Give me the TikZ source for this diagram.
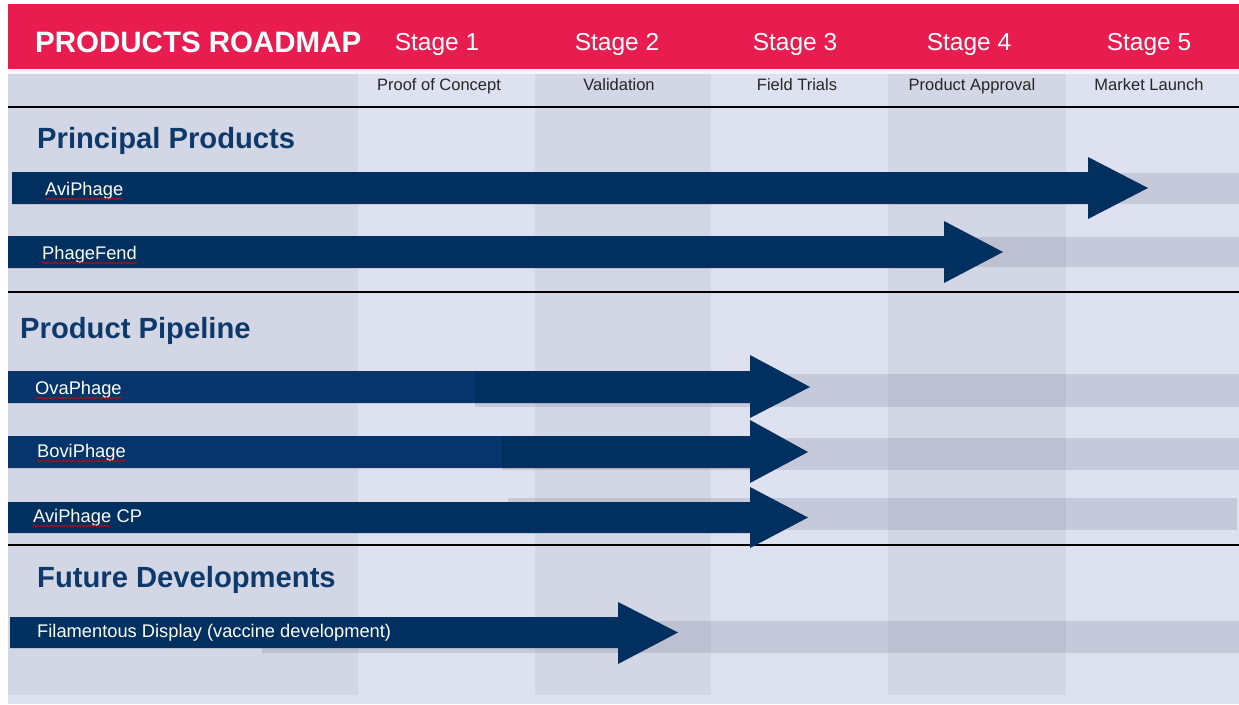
\documentclass[tikz,border=0pt]{standalone}
\usepackage{fontspec}
\setmainfont{Liberation Sans}
\usetikzlibrary{decorations.pathmorphing}

\definecolor{hdrred}{HTML}{E91C50}
\definecolor{bglight}{HTML}{DEE1EF}
\definecolor{bgdark}{HTML}{D2D6E5}
\definecolor{navy}{HTML}{00305F}
\definecolor{navylt}{HTML}{05356B}
\definecolor{headnavy}{HTML}{0D3A6B}
\definecolor{trackgray}{HTML}{5A5F78}

% roadmap arrow: left x, body top, body bottom, head base x, head top, head bottom, tip x
\newcommand\roadarrow[7]{%
  \fill[navy] (#1,#2) -- (#4,#2) -- (#4,#5) -- (#7,{(#2+#3)/2}) -- (#4,#6) -- (#4,#3) -- (#1,#3) -- cycle;}

\tikzset{
  titletxt/.style={text=white, font=\fontsize{29.5}{31}\selectfont\bfseries, inner sep=0pt, anchor=base west},
  stagetxt/.style={text=white, font=\fontsize{24.5}{26}\selectfont, inner sep=0pt, anchor=base},
  subtxt/.style={text=black!85, font=\fontsize{16.5}{18}\selectfont, inner sep=0pt, anchor=base},
  sectiontxt/.style={text=headnavy, font=\fontsize{29.2}{31}\selectfont\bfseries, inner sep=0pt, anchor=base west},
  itemtxt/.style={text=white, font=\fontsize{18.3}{20}\selectfont, inner sep=0pt, anchor=base west},
  track/.style={fill=trackgray, opacity=0.18},
  divider/.style={line width=2.4pt, black},
  spellmark/.style={draw=red!85!black, line width=0.7pt, decorate,
    decoration={snake, amplitude=0.9pt, segment length=3.2pt}},
}

\begin{document}
\begin{tikzpicture}[x=1pt,y=-1pt]
\useasboundingbox (0,0) rectangle (1239,704);
\fill[white] (0,0) rectangle (1239,704);

% background and alternating stage columns
\fill[bglight] (8,74) rectangle (1239,704);
\foreach \a/\b in {8/358,535/711,888/1066}
  \fill[bgdark] (\a,74) rectangle (\b,695);
\fill[white!94!gray] (8,69) rectangle (1239,74);

% header band
\fill[hdrred] (8,4) rectangle (1239,69);
\node[titletxt] (title) at (35,52.5) {PRODUCTS ROADMAP};
\node[stagetxt] (s1) at (437,50.5) {Stage 1};
\node[stagetxt] (s2) at (617,50.5) {Stage 2};
\node[stagetxt] (s3) at (795,50.5) {Stage 3};
\node[stagetxt] (s4) at (969,50.5) {Stage 4};
\node[stagetxt] (s5) at (1149,50.5) {Stage 5};

\node[subtxt] (p1) at (439,90.5) {Proof of Concept};
\node[subtxt] (p2) at (619,90.5) {Validation};
\node[subtxt] (p3) at (797,90.5) {Field Trials};
\node[subtxt] (p4) at (972,90.5) {Product Approval};
\node[subtxt] (p5) at (1149,90.5) {Market Launch};

% section dividers
\draw[divider] (8,107) -- (1239,107);
\draw[divider] (8,292) -- (1239,292);
\draw[divider] (8,545) -- (1239,545);

% progress tracks
\fill[track] (500,172.5) rectangle (1239,203.5);
\fill[track] (500,236.5) rectangle (1239,267);
\fill[track] (475,374) rectangle (1239,407);
\fill[track] (502,438) rectangle (1239,470);
\fill[track] (508,498) rectangle (1237,530);
\fill[track] (262,621) rectangle (1239,653);

% Principal Products
\node[sectiontxt] (secA) at (37,148) {Principal Products};
\roadarrow{12}{172}{204}{1088}{157}{219}{1148}
\roadarrow{8}{236}{268}{944}{221}{283}{1003}
\node[itemtxt] (avi) at (45,195) {AviPhage};
\node[itemtxt] (fend) at (42,259) {PhageFend};

% Product Pipeline
\node[sectiontxt] (secB) at (20,338) {Product Pipeline};
\roadarrow{8}{371}{403}{750}{355}{418}{810}
\fill[navylt] (8,371) rectangle (475,403);
\roadarrow{8}{436}{468}{750}{420}{483}{808}
\fill[navylt] (8,436) rectangle (502,468);
\roadarrow{8}{502}{533}{750}{487}{548}{808}
\node[itemtxt] (ova) at (35,394) {OvaPhage};
\node[itemtxt] (bovi) at (37,457) {BoviPhage};
\node[itemtxt] (cpa) at (33,522) {AviPhage};
\node[itemtxt] (cpb) at ([xshift=5.1pt]cpa.base east) {CP};

% Future Developments
\node[sectiontxt] (secC) at (37,587) {Future Developments};
\roadarrow{10}{617}{648}{618}{602}{664}{678}
\node[itemtxt] (fil) at (37,637) {Filamentous Display (vaccine development)};

% spell-check marks under product names
\foreach \n in {avi,fend,ova,bovi,cpa}
  \draw[spellmark] ([yshift=-4pt]\n.base west) -- ([yshift=-4pt]\n.base east);
\end{tikzpicture}
\end{document}
